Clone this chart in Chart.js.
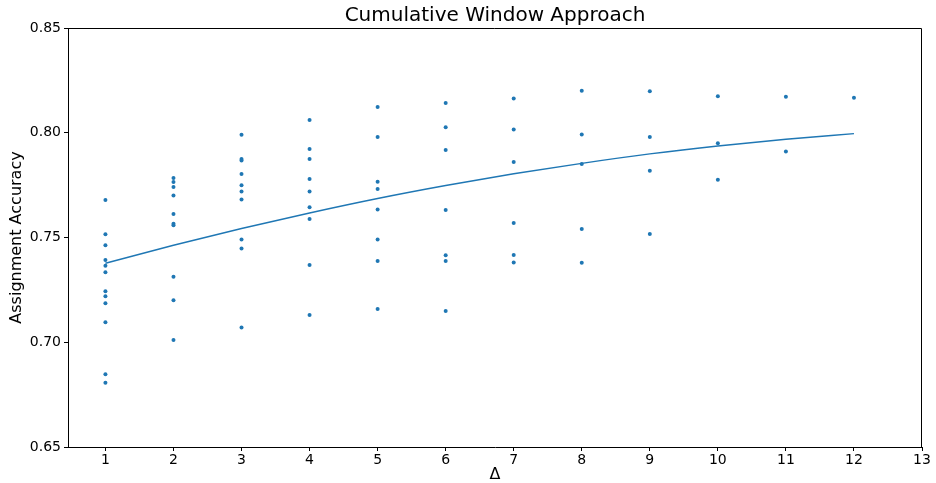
<!DOCTYPE html>
<html>
<head>
<meta charset="utf-8">
<script src="https://cdn.jsdelivr.net/npm/chart.js@4.4.0/dist/chart.umd.min.js"></script>
<style>
    html, body { margin: 0; padding: 0; background: #fff; }
</style>
</head>
<body>
<canvas id="chart" width="936" height="483"></canvas>
<script>
// window size (delta) for each group of runs
const deltas = [1, 2, 3, 4, 5, 6, 7, 8, 9, 10, 11, 12]

// assignment accuracy of each run, one list per delta
const runAccuracy = [
    [0.7679, 0.7515, 0.7463, 0.7393, 0.7365, 0.7334, 0.7243, 0.7219, 0.7186, 0.7095, 0.6847, 0.6807],
    [0.7784, 0.7765, 0.7741, 0.7700, 0.7612, 0.7566, 0.7558, 0.7313, 0.7200, 0.7011],
    [0.7991, 0.7875, 0.7868, 0.7803, 0.7749, 0.7720, 0.7681, 0.7491, 0.7448, 0.7071],
    [0.8061, 0.7922, 0.7875, 0.7779, 0.7720, 0.7644, 0.7588, 0.7369, 0.7130],
    [0.8123, 0.7980, 0.7766, 0.7731, 0.7634, 0.7490, 0.7388, 0.7159],
    [0.8142, 0.8026, 0.7918, 0.7631, 0.7415, 0.7388, 0.7149],
    [0.8163, 0.8016, 0.7860, 0.7569, 0.7416, 0.7381],
    [0.8201, 0.7992, 0.7851, 0.7541, 0.7380],
    [0.8198, 0.7980, 0.7819, 0.7517],
    [0.8174, 0.7950, 0.7776],
    [0.8172, 0.7910],
    [0.8167]
]

// fitted trend line, read at each delta
const trendAccuracy = [0.7377, 0.7463, 0.7543, 0.7617, 0.7686, 0.7748, 0.7804, 0.7854, 0.7899, 0.7937, 0.7969, 0.7996]

const xTicks = [1, 2, 3, 4, 5, 6, 7, 8, 9, 10, 11, 12, 13]
const yTicks = [0.65, 0.70, 0.75, 0.80, 0.85]

const blue = '#1f77b4'
const font = 'DejaVu Sans'

const runPoints = []
deltas.forEach((d, i) => runAccuracy[i].forEach(v => runPoints.push({ x: d, y: v })))
const trendPoints = deltas.map((d, i) => ({ x: d, y: trendAccuracy[i] }))

// matplotlib-style: top/right spines and title centred over the axes
const frame = {
    id: 'frame',
    afterLayout(chart) {
        chart.titleBlock.left = chart.chartArea.left
        chart.titleBlock.right = chart.chartArea.right
    },
    afterDatasetsDraw(chart) {
        const { ctx, chartArea: a } = chart
        ctx.save()
        ctx.strokeStyle = '#000'
        ctx.lineWidth = 1
        ctx.beginPath()
        ctx.moveTo(a.left, a.top + 0.5)
        ctx.lineTo(a.right - 0.5, a.top + 0.5)
        ctx.lineTo(a.right - 0.5, a.bottom)
        ctx.stroke()
        ctx.restore()
    }
}

new Chart(document.getElementById('chart'), {
    type: 'scatter',
    data: {
        datasets: [
            {
                type: 'line',
                data: trendPoints,
                borderColor: blue,
                borderWidth: 1.4,
                pointRadius: 0,
                fill: false,
                cubicInterpolationMode: 'monotone'
            },
            {
                data: runPoints,
                backgroundColor: blue,
                borderColor: blue,
                pointRadius: 2,
                borderWidth: 0
            }
        ]
    },
    options: {
        responsive: false,
        animation: false,
        devicePixelRatio: 1,
        layout: { padding: { left: 0, right: 14, top: 0, bottom: 0 } },
        plugins: {
            legend: { display: false },
            tooltip: { enabled: false },
            title: {
                display: true,
                text: 'Cumulative Window Approach',
                color: '#000',
                font: { family: font, size: 20, weight: 'normal', lineHeight: 1.2 },
                padding: { top: 4, bottom: 0 }
            }
        },
        scales: {
            x: {
                type: 'linear',
                min: 0.45,
                max: 13,
                afterBuildTicks: scale => { scale.ticks = xTicks.map(v => ({ value: v })) },
                afterFit: scale => { scale.height = 36 },
                grid: { drawOnChartArea: false, tickLength: 4, color: '#000', tickColor: '#000' },
                border: { color: '#000', width: 1 },
                ticks: { color: '#000', font: { family: font, size: 14 }, padding: 1, maxRotation: 0 },
                title: {
                    display: true,
                    text: 'Δ',
                    color: '#000',
                    font: { family: font, size: 16, lineHeight: 1 },
                    padding: { top: 0, bottom: 0 }
                }
            },
            y: {
                min: 0.65,
                max: 0.85,
                afterBuildTicks: scale => { scale.ticks = yTicks.map(v => ({ value: v })) },
                afterFit: scale => { scale.width = 68 },
                grid: { drawOnChartArea: false, tickLength: 4, color: '#000', tickColor: '#000' },
                border: { color: '#000', width: 1 },
                ticks: {
                    color: '#000',
                    font: { family: font, size: 14 },
                    padding: 3,
                    callback: v => v.toFixed(2)
                },
                title: {
                    display: true,
                    text: 'Assignment Accuracy',
                    color: '#000',
                    font: { family: font, size: 16 },
                    padding: { top: 7, bottom: 0 }
                }
            }
        }
    },
    plugins: [frame]
})
</script>
</body>
</html>
